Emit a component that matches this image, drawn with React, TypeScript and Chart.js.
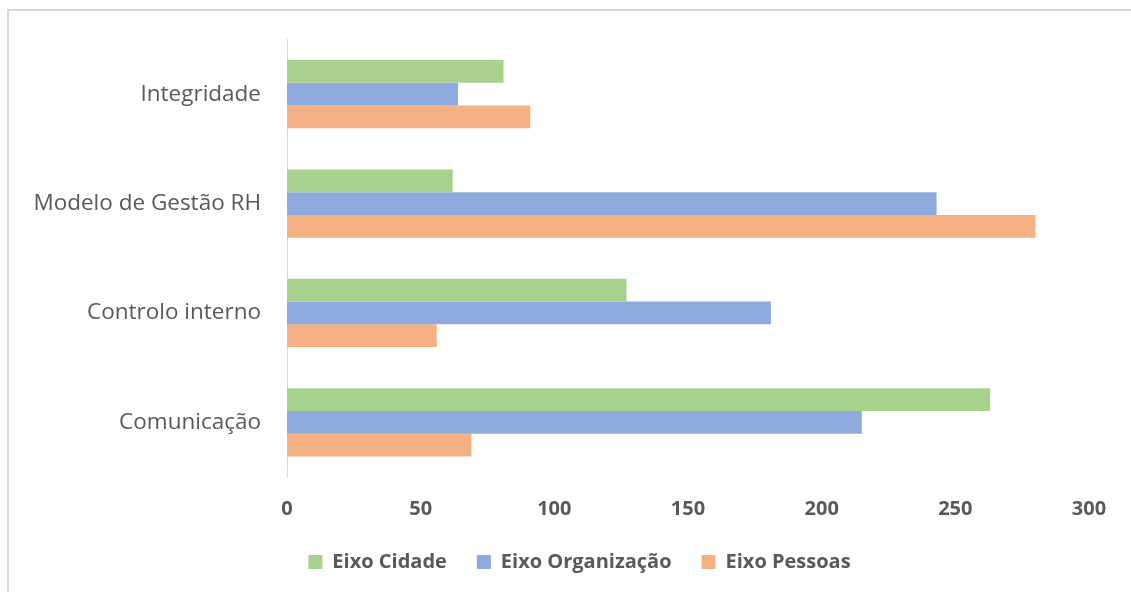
import React, { useEffect, useRef } from "react";
import { Chart, registerables } from "chart.js";

Chart.register(...registerables);

const categories = ["Integridade", "Modelo de Gestão RH", "Controlo interno", "Comunicação"];
const seriesNames = ["Eixo Cidade", "Eixo Organização", "Eixo Pessoas"];
const cidade = [81, 62, 127, 263];
const organizacao = [64, 243, 181, 215];
const pessoas = [91, 280, 56, 69];
const seriesColors = ["#A9D18E", "#8FAADC", "#F4B183"];
const xTicks = [0, 50, 100, 150, 200, 250, 300];

const FONT = "'Open Sans', Lato, sans-serif";
const TEXT = "#595959";
const LEGEND_OFFSET = 35;

// Centre the legend under the plot area rather than the whole canvas.
const legendShift = {
  id: "legendShift",
  afterLayout(chart: any) {
    const legend = chart.legend;
    if (legend) {
      legend.left += LEGEND_OFFSET;
      legend.right += LEGEND_OFFSET;
    }
  },
};

export default function App() {
  const ref = useRef<HTMLCanvasElement | null>(null);

  useEffect(() => {
    if (!ref.current) return;
    const values = [cidade, organizacao, pessoas];
    const chart = new Chart(ref.current, {
      type: "bar",
      data: {
        labels: categories,
        datasets: seriesNames.map((name, i) => ({
          label: name,
          data: values[i],
          backgroundColor: seriesColors[i],
          borderWidth: 0,
          barPercentage: 1,
          categoryPercentage: 0.625,
        })),
      },
      options: {
        indexAxis: "y",
        animation: false,
        responsive: false,
        layout: { padding: { top: 39, right: 42, bottom: 10, left: 0 } },
        plugins: {
          tooltip: { enabled: false },
          legend: {
            position: "bottom",
            labels: {
              boxWidth: 14,
              boxHeight: 14,
              padding: 30,
              color: TEXT,
              font: { family: FONT, size: 20, weight: "bold" },
            },
          },
        },
        scales: {
          x: {
            min: 0,
            max: 300,
            afterBuildTicks: (scale: any) => {
              scale.ticks = xTicks.map((v) => ({ value: v }));
            },
            afterFit: (scale: any) => {
              scale.height = 45;
            },
            grid: { display: false, drawTicks: false },
            border: { display: false },
            ticks: {
              padding: 20,
              color: TEXT,
              font: { family: FONT, size: 20, weight: "bold" },
            },
          },
          y: {
            afterFit: (scale: any) => {
              scale.width = 287;
            },
            grid: { display: false, drawTicks: false },
            border: { display: true, color: "#D9D9D9", width: 1 },
            ticks: {
              padding: 26,
              color: TEXT,
              font: { family: FONT, size: 22.5 },
            },
          },
        },
      },
      plugins: [legendShift],
    });
    return () => chart.destroy();
  }, []);

  return (
    <div
      style={{
        position: "fixed",
        left: 0,
        top: 0,
        width: 1131,
        height: 592,
        background: "#fff",
        overflow: "hidden",
      }}
    >
      <div
        style={{
          position: "absolute",
          left: 7,
          top: 9,
          width: 1200,
          height: 700,
          borderTop: "2px solid #D9D9D9",
          borderLeft: "2px solid #D9D9D9",
        }}
      />
      <canvas
        ref={ref}
        width={1131}
        height={592}
        style={{ position: "absolute", left: 0, top: 0 }}
      />
    </div>
  );
}
